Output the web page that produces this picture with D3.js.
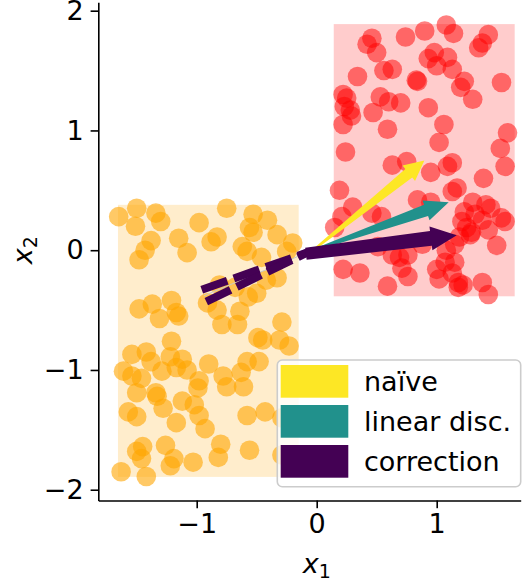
<!DOCTYPE html>
<html>
<head>
<meta charset="utf-8">
<script src="https://cdn.jsdelivr.net/npm/d3@7"></script>
<style>
  body { margin: 0; background: #fff; }
  svg { display: block; font-family: "DejaVu Sans", sans-serif; }
</style>
</head>
<body>
<script>
// class 0 (orange) samples
let orangePoints = [
  [-1.65,0.28],[-1.50,0.35],[-1.51,0.20],[-1.34,0.31],[-1.30,0.24],[-1.38,0.08],[-1.43,0.00],[-1.48,-0.08],
  [-1.15,0.10],[-1.08,-0.02],[-0.98,0.23],[-0.75,0.35],[-0.88,0.07],[-0.83,0.11],[-0.53,0.30],[-0.41,0.25],
  [-0.56,0.19],[-0.53,0.15],[-0.33,0.13],[-0.20,0.06],[-0.62,0.03],[-0.58,-0.01],[-0.46,-0.06],[-0.25,-0.01],
  [-0.33,-0.23],[-0.42,-0.25],[-0.81,-0.29],[-0.68,-0.31],[-0.50,-0.36],[-0.57,-0.39],[-0.91,-0.44],[-0.83,-0.50],
  [-0.64,-0.51],[-0.79,-0.62],[-0.66,-0.62],[-1.48,-0.49],[-1.37,-0.45],[-1.21,-0.42],[-1.31,-0.57],[-1.17,-0.52],
  [-1.15,-0.55],[-0.29,-0.60],[-0.49,-0.73],[-0.45,-0.75],[-0.31,-0.75],[-0.23,-0.80],[-1.21,-0.76],[-1.54,-0.87],
  [-1.42,-0.85],[-1.38,-0.93],[-1.29,-1.01],[-1.22,-0.89],[-1.12,-0.91],[-1.17,-0.98],[-1.08,-1.00],[-0.90,-0.95],
  [-0.58,-0.93],[-0.48,-0.93],[-1.61,-1.01],[-1.54,-1.05],[-1.46,-1.07],[-1.50,-1.19],[-1.34,-1.19],[-1.33,-1.22],
  [-0.98,-1.09],[-0.99,-1.15],[-0.78,-1.05],[-0.75,-1.14],[-0.63,-1.02],[-0.61,-1.14],[-1.12,-1.26],[-1.02,-1.29],
  [-1.28,-1.32],[-1.57,-1.35],[-1.50,-1.39],[-0.98,-1.38],[-1.17,-1.44],[-0.93,-1.49],[-0.58,-1.38],[-0.43,-1.35],
  [-0.29,-1.40],[-1.45,-1.64],[-1.50,-1.68],[-1.46,-1.74],[-1.26,-1.63],[-1.19,-1.74],[-1.22,-1.80],[-1.03,-1.77],
  [-0.80,-1.62],[-0.82,-1.73],[-0.56,-1.67],[-0.29,-1.71],[-1.63,-1.85],[-1.42,-1.89]
];

// class 1 (red) samples
let redPoints = [
  [0.46,1.77],[0.42,1.72],[0.50,1.65],[0.74,1.78],[0.90,1.83],[1.08,1.88],[1.14,1.81],[1.43,1.80],
  [1.38,1.73],[1.35,1.69],[0.98,1.65],[0.93,1.60],[1.09,1.61],[1.00,1.54],[1.13,1.51],[0.56,1.50],
  [0.63,1.51],[0.34,1.45],[0.84,1.41],[0.83,1.42],[1.23,1.41],[1.20,1.36],[1.30,1.26],[1.54,1.40],
  [0.22,1.30],[0.25,1.27],[0.23,1.20],[0.28,1.17],[0.29,1.12],[0.22,1.05],[0.53,1.28],[0.60,1.24],
  [0.70,1.23],[0.47,1.15],[0.59,1.01],[0.93,1.19],[1.06,1.05],[1.02,0.90],[1.59,0.98],[1.53,0.85],
  [0.24,0.82],[0.63,0.71],[0.75,0.74],[0.95,0.65],[1.09,0.70],[1.13,0.73],[1.57,0.70],[1.39,0.60],
  [0.19,0.50],[0.30,0.36],[1.13,0.49],[1.17,0.52],[0.84,0.42],[0.95,0.40],[0.21,0.28],[0.46,0.31],
  [0.54,0.28],[1.23,0.32],[1.30,0.40],[1.41,0.38],[1.45,0.35],[1.32,0.30],[1.38,0.25],[1.54,0.27],
  [1.57,0.24],[1.21,0.24],[1.25,0.19],[1.29,0.15],[1.43,0.17],[1.19,0.11],[1.28,0.13],[1.50,0.04],
  [0.15,0.19],[0.22,-0.16],[0.36,-0.19],[0.51,0.03],[0.63,-0.04],[0.69,-0.06],[0.76,-0.04],[0.71,-0.15],
  [0.76,-0.22],[0.88,0.05],[1.00,-0.16],[1.02,-0.24],[1.07,-0.10],[1.15,-0.10],[1.13,-0.19],[1.18,-0.27],
  [1.18,-0.31],[1.22,-0.29],[1.38,-0.27],[1.43,-0.37],[0.59,-0.30],[1.15,0.05],[1.08,0.00]
];

// shaded class boxes: [x0, x1, y0, y1]
let orangeBox = [-1.656, -0.15, -1.893, 0.379];
let redBox = [0.142, 1.65, -0.385, 1.888];

// direction arrows
let arrowLabels = ["naïve", "linear disc.", "correction"];
let arrowColors = ["#fde725", "#21918c", "#440154"];
let arrowStart = [[-0.03, 0.0], [-0.03, 0.0], [-0.09, -0.03]];
let arrowEnd = [[0.897, 0.748], [1.10, 0.40], [1.167, 0.125]];

// dashed reversed arrow (two edges)
let dashStart = [-0.08, -0.02];
let dashEnds = [[-0.958, -0.33], [-0.92, -0.43]];

let xTicks = [-1, 0, 1];
let yTicks = [-2, -1, 0, 1, 2];

let W = 524, H = 581;
let x = d3.scaleLinear([-1.82, 1.70], [98.3, 520.7]);
let y = d3.scaleLinear([-2.09, 2.07], [500.5, 2.3]);

let svg = d3.select("body").append("svg")
    .attr("width", W)
    .attr("height", H);

// boxes
svg.append("rect")
    .attr("x", x(orangeBox[0])).attr("y", y(orangeBox[3]))
    .attr("width", x(orangeBox[1]) - x(orangeBox[0]))
    .attr("height", y(orangeBox[2]) - y(orangeBox[3]))
    .attr("fill", "orange").attr("fill-opacity", 0.2);

svg.append("rect")
    .attr("x", x(redBox[0])).attr("y", y(redBox[3]))
    .attr("width", x(redBox[1]) - x(redBox[0]))
    .attr("height", y(redBox[2]) - y(redBox[3]))
    .attr("fill", "red").attr("fill-opacity", 0.2);

// scatter
svg.append("g").selectAll("circle")
    .data(orangePoints)
    .enter().append("circle")
    .attr("cx", d => x(d[0])).attr("cy", d => y(d[1]))
    .attr("r", 9.8)
    .attr("fill", "orange").attr("fill-opacity", 0.6);

svg.append("g").selectAll("circle")
    .data(redPoints)
    .enter().append("circle")
    .attr("cx", d => x(d[0])).attr("cy", d => y(d[1]))
    .attr("r", 9.8)
    .attr("fill", "red").attr("fill-opacity", 0.5);

// dashed arrow
let dashG = svg.append("g");
dashG.append("line")
    .attr("x1", x(dashStart[0])).attr("y1", y(dashStart[1]))
    .attr("x2", x((dashEnds[0][0] + dashEnds[1][0]) / 2)).attr("y2", y((dashEnds[0][1] + dashEnds[1][1]) / 2))
    .attr("stroke", "#c8c8c8").attr("stroke-width", 1);

dashG.selectAll("line.edge")
    .data(dashEnds)
    .enter().append("line")
    .attr("class", "edge")
    .attr("x1", d => x(d[0])).attr("y1", d => y(d[1]))
    .attr("x2", x(dashStart[0])).attr("y2", y(dashStart[1]))
    .attr("stroke", arrowColors[2])
    .attr("stroke-width", 8)
    .attr("stroke-dasharray", "27,7");

// solid tapered arrows, shape sizes in px
let arrowShape = [
  { w0: 2, w1: 11, hw: 20, hl: 20 },
  { w0: 2, w1: 12, hw: 21, hl: 24 },
  { w0: 12, w1: 15, hw: 24, hl: 26 }
];

function arrowPath(s, e, sh) {
    let x0 = x(s[0]), y0 = y(s[1]), x1 = x(e[0]), y1 = y(e[1]);
    let dx = x1 - x0, dy = y1 - y0, len = Math.hypot(dx, dy);
    let ux = dx / len, uy = dy / len, nx = -uy, ny = ux;
    let bx = x1 - ux * sh.hl, by = y1 - uy * sh.hl;
    let pts = [
        [x0 + nx * sh.w0 / 2, y0 + ny * sh.w0 / 2],
        [bx + nx * sh.w1 / 2, by + ny * sh.w1 / 2],
        [bx + nx * sh.hw / 2, by + ny * sh.hw / 2],
        [x1, y1],
        [bx - nx * sh.hw / 2, by - ny * sh.hw / 2],
        [bx - nx * sh.w1 / 2, by - ny * sh.w1 / 2],
        [x0 - nx * sh.w0 / 2, y0 - ny * sh.w0 / 2]
    ];
    return "M" + pts.map(p => p.join(",")).join("L") + "Z";
}

svg.append("g").selectAll("path")
    .data(arrowLabels)
    .enter().append("path")
    .attr("d", (d, i) => arrowPath(arrowStart[i], arrowEnd[i], arrowShape[i]))
    .attr("fill", (d, i) => arrowColors[i]);

// axes (left and bottom spines only)
let fontSize = 27;
let fmt = d3.format("d");

let xAxis = svg.append("g")
    .attr("transform", `translate(0,${y.range()[0]})`)
    .call(d3.axisBottom(x).tickValues(xTicks).tickFormat(fmt).tickSize(7.7).tickSizeOuter(0).tickPadding(6));

let yAxis = svg.append("g")
    .attr("transform", `translate(${x.range()[0]},0)`)
    .call(d3.axisLeft(y).tickValues(yTicks).tickFormat(fmt).tickSize(7.7).tickSizeOuter(0).tickPadding(7));

[xAxis, yAxis].forEach(a => {
    a.selectAll("path, line").attr("stroke", "#000").attr("stroke-width", 1.6);
    a.selectAll("text")
        .attr("fill", "#000")
        .style("font-size", fontSize + "px")
        .style("font-family", "DejaVu Sans");
});

// axis labels
let xl = svg.append("text")
    .attr("x", x(0)).attr("y", 573)
    .attr("text-anchor", "middle")
    .style("font-size", fontSize + "px");
xl.append("tspan").style("font-style", "italic").text("x");
xl.append("tspan").attr("dy", 5).style("font-size", "19px").text("1");

let yl = svg.append("text")
    .attr("transform", `translate(32,${y(0)}) rotate(-90)`)
    .attr("text-anchor", "middle")
    .style("font-size", fontSize + "px");
yl.append("tspan").style("font-style", "italic").text("x");
yl.append("tspan").attr("dy", 5).style("font-size", "19px").text("2");

// legend
let legend = svg.append("g");
legend.append("rect")
    .attr("x", 277.3).attr("y", 360)
    .attr("width", 243.4).attr("height", 126.7)
    .attr("rx", 5)
    .attr("fill", "#fff").attr("fill-opacity", 0.8)
    .attr("stroke", "#cccccc").attr("stroke-width", 1.6);

let items = legend.selectAll("g.item")
    .data(arrowLabels)
    .enter().append("g")
    .attr("class", "item")
    .attr("transform", (d, i) => `translate(0,${365 + i * 40})`);

items.append("rect")
    .attr("x", 280.7).attr("y", 0)
    .attr("width", 67.6).attr("height", 32.7)
    .attr("fill", (d, i) => arrowColors[i]);

items.append("text")
    .attr("x", 364).attr("y", 26)
    .style("font-size", fontSize + "px")
    .text(d => d);
</script>
</body>
</html>
